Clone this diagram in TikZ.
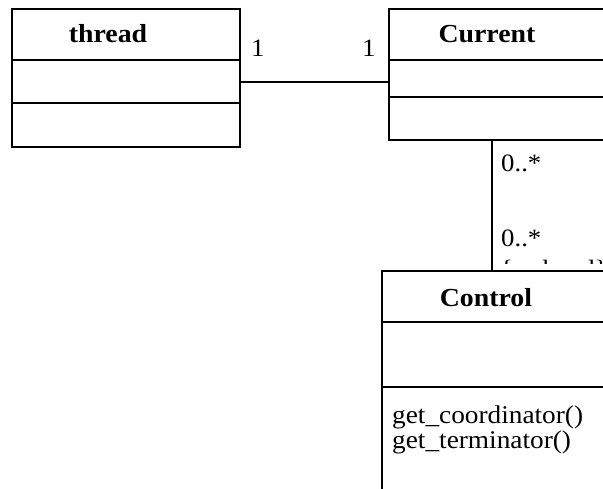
\documentclass[tikz,border=0pt]{standalone}
\usepackage{fontspec}
\setmainfont[FakeStretch=1.07]{Liberation Serif}
\begin{document}
\begin{tikzpicture}[x=1pt,y=-1pt,
  classbox/.style={draw, line width=1.8pt, fill=white, inner sep=0pt, outer sep=0pt, anchor=north west},
  divider/.style={line width=1.8pt},
  assoc/.style={line width=1.4pt},
  lbl/.style={inner sep=0pt, font=\fontsize{25}{28}\selectfont},
  ttl/.style={inner sep=0pt, font=\fontsize{26}{28}\selectfont\bfseries},
  op/.style={inner sep=0pt, anchor=base west, font=\fontsize{25.5}{28}\selectfont}]
\useasboundingbox (0,0) rectangle (603,489);
\clip (0,0) rectangle (603,489);
\fill[white] (0,0) rectangle (603,489);

% clipped fragment of a hidden label
\begin{scope}
  \clip (490,255) rectangle (603,264);
  \node[lbl, anchor=base west] (ordered) at (500,278) {\{ordered\}};
\end{scope}

% class boxes
\node[classbox, minimum width=228pt, minimum height=138pt] (thread) at (12,9) {};
\node[classbox, minimum width=240pt, minimum height=131pt] (current) at (389,9) {};
\node[classbox, minimum width=240pt, minimum height=240pt] (control) at (382,271) {};

% compartments
\draw[divider] (thread.west |- 0,60) -- (thread.east |- 0,60);
\draw[divider] (thread.west |- 0,103) -- (thread.east |- 0,103);
\draw[divider] (current.west |- 0,60) -- (current.east |- 0,60);
\draw[divider] (current.west |- 0,97) -- (current.east |- 0,97);
\draw[divider] (control.west |- 0,322) -- (control.east |- 0,322);
\draw[divider] (control.west |- 0,387) -- (control.east |- 0,387);

% titles
\node[ttl, anchor=base] (threadname) at (108,43) {thread};
\node[ttl, anchor=base] (currentname) at (487,43) {Current};
\node[ttl, anchor=base] (controlname) at (486,307) {Control};

% operations
\node[op] (op1) at (392,423) {get\_coordinator()};
\node[op] (op2) at (392,448) {get\_terminator()};

% associations
\draw[assoc] (thread.east |- 0,82) -- (current.west |- 0,82);
\draw[assoc] (current.south -| 492,0) -- (control.north -| 492,0);

% multiplicities
\node[lbl, anchor=base west] (m1) at (251,57) {1};
\node[lbl, anchor=base west] (m2) at (362,57) {1};
\node[lbl, anchor=base west] (m3) at (501,172) {0..*};
\node[lbl, anchor=base west] (m4) at (501,247) {0..*};
\end{tikzpicture}
\end{document}
